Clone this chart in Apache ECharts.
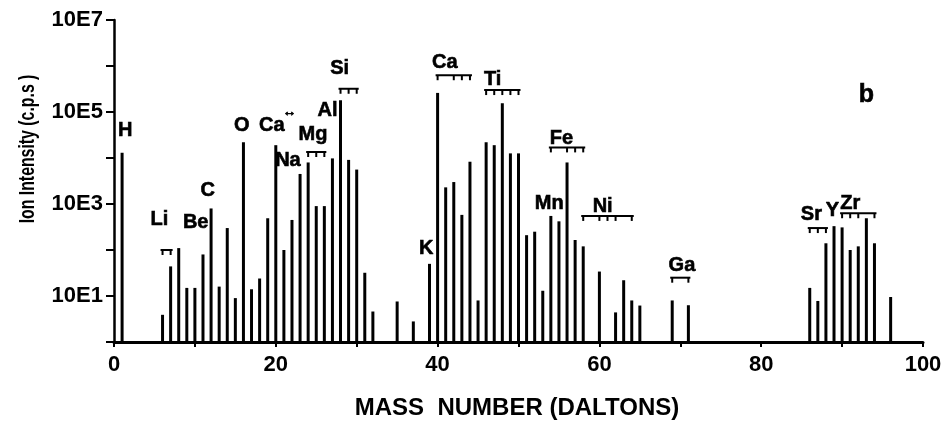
<!DOCTYPE html>
<html>
<head>
<meta charset="utf-8">
<script src="https://cdn.jsdelivr.net/npm/echarts@6/dist/echarts.min.js"></script>
<style>
  html, body { margin: 0; padding: 0; background: #fff; }
  #chart { width: 945px; height: 434px; }
</style>
</head>
<body>
<div id="chart"></div>
<script>
// Mass spectrum: ion intensity (c.p.s) per mass number
const masses = [1, 6, 7, 8, 9, 10, 11, 12, 13, 14, 15, 16, 17, 18, 19, 20, 21, 22, 23, 24, 25, 26, 27, 28, 29, 30,
  31, 32, 35, 37, 39, 40, 41, 42, 43, 44, 45, 46, 47, 48, 49, 50, 51, 52, 53, 54, 55, 56, 57, 58,
  60, 62, 63, 64, 65, 69, 71, 86, 87, 88, 89, 90, 91, 92, 93, 94, 96];
const intensities = [13000, 3.9, 44, 110, 15, 15, 80, 800, 16, 300, 9, 22000, 14, 24, 490, 19000, 100, 450, 4500, 8000, 900, 900, 9800, 180000, 9100, 5600,
  32, 4.6, 7.6, 2.8, 50, 260000, 2300, 3000, 580, 8300, 8, 22000, 19000, 155000, 12600, 12600, 210, 250, 13, 550, 420, 8000, 165, 120,
  34, 4.4, 22, 8, 6.2, 8, 6.3, 15, 7.8, 140, 330, 310, 100, 120, 490, 140, 9.5];

// Element annotations: name, mass position, intensity level, font size
const elementNames = ['H', 'Li', 'Be', 'C', 'O', 'Ca', '↔', 'Na', 'Mg', 'Al', 'Si', 'K', 'Ca', 'Ti', 'Mn', 'Fe', 'Ni', 'Ga', 'Sr', 'Y', 'Zr', 'b'];
const elementMass  = [1.4, 5.6, 10.1, 11.6, 15.8, 19.5, 21.7, 21.5, 24.6, 26.4, 27.9, 38.6, 40.9, 46.8, 53.8, 55.3, 60.4, 70.2, 86.2, 88.8, 91.0, 93.0];
const elementLevel = [39000, 450, 400, 2000, 50000, 50000, 100000, 9000, 32000, 110000, 900000, 110, 1200000, 500000, 1050, 26000, 900, 45, 600, 740, 1050, 234000];
const elementSize  = [20, 20, 20, 20, 20, 20, 14, 20, 20, 20, 20, 20, 20, 20, 20, 20, 20, 20, 20, 20, 20, 25];

// Isotope brackets: mass ticks and level
const bracketIsotopes = [[6, 7], [24, 25, 26], [28, 29, 30], [40, 42, 43, 44], [46, 47, 48, 49, 50], [54, 56, 57, 58],
  [58, 60, 61, 62, 64], [69, 71], [86, 87, 88], [90, 91, 92, 94]];
const bracketLevel = [100, 13500, 320000, 630000, 300000, 17000, 550, 25, 300, 630];

const yTickExponents = [1, 3, 5, 7];
const xTickLabels = [0, 20, 40, 60, 80, 100];

const chart = echarts.init(document.getElementById('chart'), null, { renderer: 'canvas' });
const FONT = "'Liberation Sans', Arial, sans-serif";

chart.setOption({
  backgroundColor: '#fff',
  animation: false,
  grid: { left: 114, right: 22, top: 20, bottom: 92 },
  xAxis: {
    type: 'value', min: 0, max: 100, interval: 10,
    axisLine: { show: true, lineStyle: { color: '#000', width: 3 } },
    axisTick: { show: true, length: 5, lineStyle: { color: '#000', width: 2 } },
    axisLabel: {
      margin: 12, color: '#000', fontFamily: FONT, fontWeight: 'bold', fontSize: 22,
      formatter: v => xTickLabels.indexOf(v) >= 0 ? String(v) : ''
    },
    splitLine: { show: false }
  },
  yAxis: {
    type: 'log', logBase: 10, min: 1, max: 1e7, splitNumber: 7,
    axisLine: { show: true, lineStyle: { color: '#000', width: 2.5 } },
    axisTick: { show: true, length: 8, lineStyle: { color: '#000', width: 2 } },
    axisLabel: {
      margin: 11, color: '#000', fontFamily: FONT, fontWeight: 'bold', fontSize: 22,
      formatter: v => {
        const e = Math.round(Math.log10(v));
        return yTickExponents.indexOf(e) >= 0 ? '10E' + e : '';
      }
    },
    splitLine: { show: false }
  },
  series: [
    {
      type: 'bar',
      barWidth: 3,
      itemStyle: { color: '#000' },
      data: masses.map((m, i) => [m, intensities[i]])
    },
    {
      // element names placed in data coordinates
      type: 'custom',
      silent: true,
      data: elementNames.map((n, i) => [elementMass[i], elementLevel[i], i]),
      renderItem: (params, api) => {
        const i = api.value(2);
        const p = api.coord([api.value(0), api.value(1)]);
        return {
          type: 'text',
          x: p[0], y: p[1],
          style: {
            text: elementNames[i], fill: '#000',
            stroke: '#000', lineWidth: 0.6,
            font: 'bold ' + elementSize[i] + "px 'Liberation Sans', Arial, sans-serif",
            align: 'center', verticalAlign: 'middle'
          }
        };
      }
    },
    {
      // isotope brackets under the element names
      type: 'custom',
      silent: true,
      data: bracketIsotopes.map((iso, i) => [iso[0], iso[iso.length - 1], bracketLevel[i], i]),
      renderItem: (params, api) => {
        const idx = api.value(3);
        const iso = bracketIsotopes[idx];
        const lvl = api.value(2);
        const p0 = api.coord([api.value(0), lvl]);
        const p1 = api.coord([api.value(1), lvl]);
        const children = [{
          type: 'line',
          shape: { x1: p0[0] - 2, y1: p0[1], x2: p1[0] + 2, y2: p1[1] },
          style: { stroke: '#000', lineWidth: 2 }
        }];
        iso.forEach(m => {
          const p = api.coord([m, lvl]);
          children.push({
            type: 'line',
            shape: { x1: p[0], y1: p[1], x2: p[0], y2: p[1] + 5 },
            style: { stroke: '#000', lineWidth: 2 }
          });
        });
        return { type: 'group', children };
      }
    }
  ],
  graphic: [
    {
      type: 'text', x: 28, y: 149, rotation: Math.PI / 2, scaleX: 0.72,
      style: {
        text: 'Ion Intensity (c.p.s )', fill: '#000',
        font: "bold 22px 'Liberation Sans', Arial, sans-serif",
        textAlign: 'center', textVerticalAlign: 'middle'
      }
    },
    {
      type: 'text', x: 517, y: 408,
      style: {
        text: 'MASS  NUMBER (DALTONS)', fill: '#000',
        font: "bold 24px 'Liberation Sans', Arial, sans-serif",
        textAlign: 'center', textVerticalAlign: 'middle'
      }
    }
  ]
});
</script>
</body>
</html>
